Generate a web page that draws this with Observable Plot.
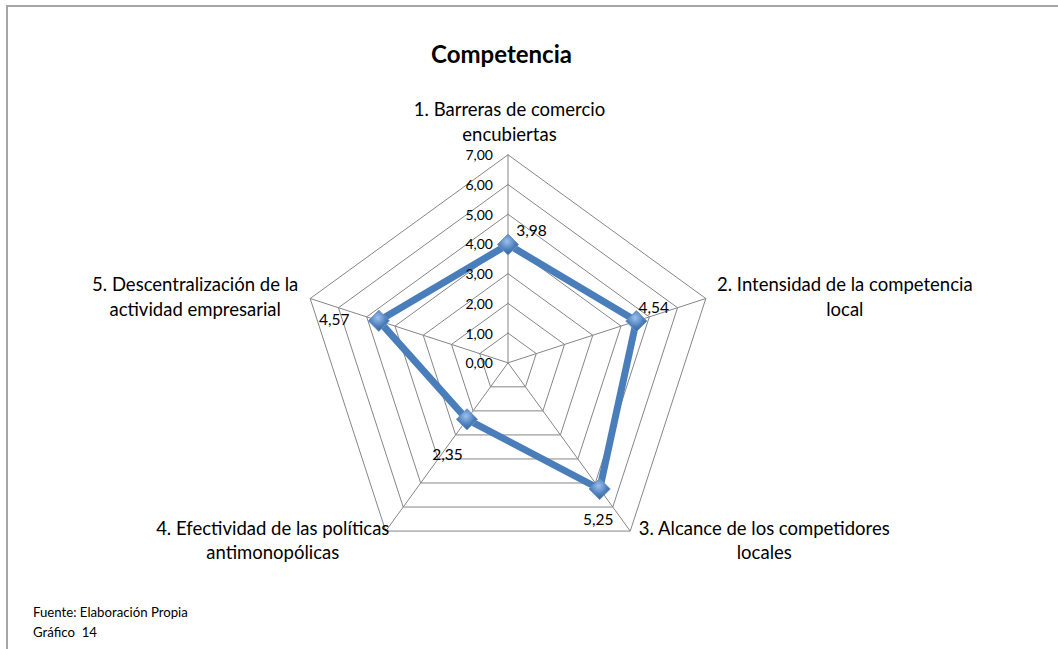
<!DOCTYPE html>
<html>
<head>
<meta charset="utf-8">
<script src="https://cdn.jsdelivr.net/npm/d3@7"></script>
<script src="https://cdn.jsdelivr.net/npm/@observablehq/plot@0.6"></script>
<style>
  html, body { margin: 0; padding: 0; background: #fff; }
  #wrap { position: relative; width: 1058px; height: 649px; overflow: hidden; font-family: Lato, "Open Sans", sans-serif; }
  #frame { position: absolute; left: 6px; top: 5px; width: 1100px; height: 700px; border-left: 2px solid #a6a6a6; border-top: 2px solid #a6a6a6; }
  #title { position: absolute; left: 0; width: 1003px; top: 39px; text-align: center; font-weight: bold; font-size: 24px; color: #000; }
  #caption { position: absolute; left: 33px; top: 602px; font-size: 13.2px; line-height: 20px; color: #000; }
  svg { position: absolute; left: 0; top: 0; }
</style>
</head>
<body>
<div id="wrap">
  <div id="frame"></div>
  <div id="chart"></div>
  <div id="title">Competencia</div>
  <div id="caption">Fuente: Elaboración Propia<br>Gráfico&nbsp; 14</div>
</div>
<script>
// ---- data ----
const categories = [
  "1. Barreras de comercio\nencubiertas",
  "2. Intensidad de la competencia\nlocal",
  "3. Alcance de los competidores\nlocales",
  "4. Efectividad de las políticas\nantimonopólicas",
  "5. Descentralización de la\nactividad empresarial"
];
const values = [3.98, 4.54, 5.25, 2.35, 4.57];
const valueLabels = ["3,98", "4,54", "5,25", "2,35", "4,57"];
const ringLevels = [1, 2, 3, 4, 5, 6, 7];
const tickValues = [0, 1, 2, 3, 4, 5, 6, 7];
const tickLabels = ["0,00", "1,00", "2,00", "3,00", "4,00", "5,00", "6,00", "7,00"];

// ---- layout ----
const W = 1058, H = 649;
const cx = 507.5, cy = 362.3, R = 208, maxV = 7;
const k = R / maxV;
const n = categories.length;
const angle = i => Math.PI / 2 - i * 2 * Math.PI / n;
const px = (i, v) => v * Math.cos(angle(i));
const py = (i, v) => v * Math.sin(angle(i));

// category label offsets (px) relative to outer vertex
const catOffsets = [[1.5, -34], [139, -3], [134, 8], [-113, 8], [-115, -3]];
// value label offsets (px) relative to point
const valOffsets = [[24, -13], [18, -13], [-1, 32], [-19, 36], [-44, 0]];

const rings = ringLevels.flatMap(l => d3.range(n + 1).map(j => ({ l, x: px(j % n, l), y: py(j % n, l) })));
const spokes = d3.range(n).map(i => ({ x2: px(i, maxV), y2: py(i, maxV) }));
const series = d3.range(n + 1).map(j => ({ x: px(j % n, values[j % n]), y: py(j % n, values[j % n]) }));
const pts = values.map((v, i) => ({ x: px(i, v), y: py(i, v), label: valueLabels[i], dx: valOffsets[i][0], dy: valOffsets[i][1] }));
const cats = categories.map((c, i) => ({ x: px(i, maxV), y: py(i, maxV), c, dx: catOffsets[i][0], dy: catOffsets[i][1] }));
const ticks = tickValues.map((t, i) => ({ y: t, label: tickLabels[i] }));

const plot = Plot.plot({
  width: W, height: H,
  margin: 0,
  x: { domain: [-cx / k, (W - cx) / k], range: [0, W], axis: null },
  y: { domain: [-(H - cy) / k, cy / k], range: [H, 0], axis: null },
  style: { fontFamily: "Lato, 'Open Sans', sans-serif", background: "transparent" },
  marks: [
    Plot.line(rings, { x: "x", y: "y", z: "l", stroke: "#868686", strokeWidth: 1 }),
    Plot.link(spokes, { x1: 0, y1: 0, x2: "x2", y2: "y2", stroke: "#868686", strokeWidth: 1 }),
    Plot.line(series, { x: "x", y: "y", stroke: "#4a7ebb", strokeWidth: 7, strokeLinejoin: "miter" }),
    Plot.dot(pts, { x: "x", y: "y", symbol: "diamond2", r: 9.5, fill: "url(#dg)", stroke: "#6f93c4", strokeWidth: 1 }),
    Plot.text(ticks, { x: 0, y: "y", text: "label", textAnchor: "end", dx: -15, dy: 1, fontSize: 14, fill: "#000" }),
    Plot.text(pts, { x: "x", y: "y", text: "label", dx: d => d.dx, dy: d => d.dy, fontSize: 15.5, fill: "#000" }),
    Plot.text(cats, { x: "x", y: "y", text: "c", fontSize: 18.5, lineHeight: 1.33, fill: "#000" })
  ]
});
document.getElementById("chart").appendChild(plot);

// per-datum offsets for text
const svg = d3.select(plot);
const textGroups = svg.selectAll("g[aria-label='text']").nodes();
d3.select(textGroups[1]).selectAll("text").each(function (_, i) {
  const t = d3.select(this);
  t.attr("transform", (t.attr("transform") || "") + ` translate(${pts[i].dx},${pts[i].dy})`);
});
d3.select(textGroups[2]).selectAll("text").each(function (_, i) {
  const t = d3.select(this);
  t.attr("transform", (t.attr("transform") || "") + ` translate(${cats[i].dx},${cats[i].dy})`);
});

// gradient for markers
const defs = svg.insert("defs", ":first-child");
const g = defs.append("radialGradient").attr("id", "dg").attr("cx", "45%").attr("cy", "35%").attr("r", "70%");
g.append("stop").attr("offset", "0%").attr("stop-color", "#9cc0ee");
g.append("stop").attr("offset", "55%").attr("stop-color", "#4f81bd");
g.append("stop").attr("offset", "100%").attr("stop-color", "#2c5d9a");
</script>
</body>
</html>
